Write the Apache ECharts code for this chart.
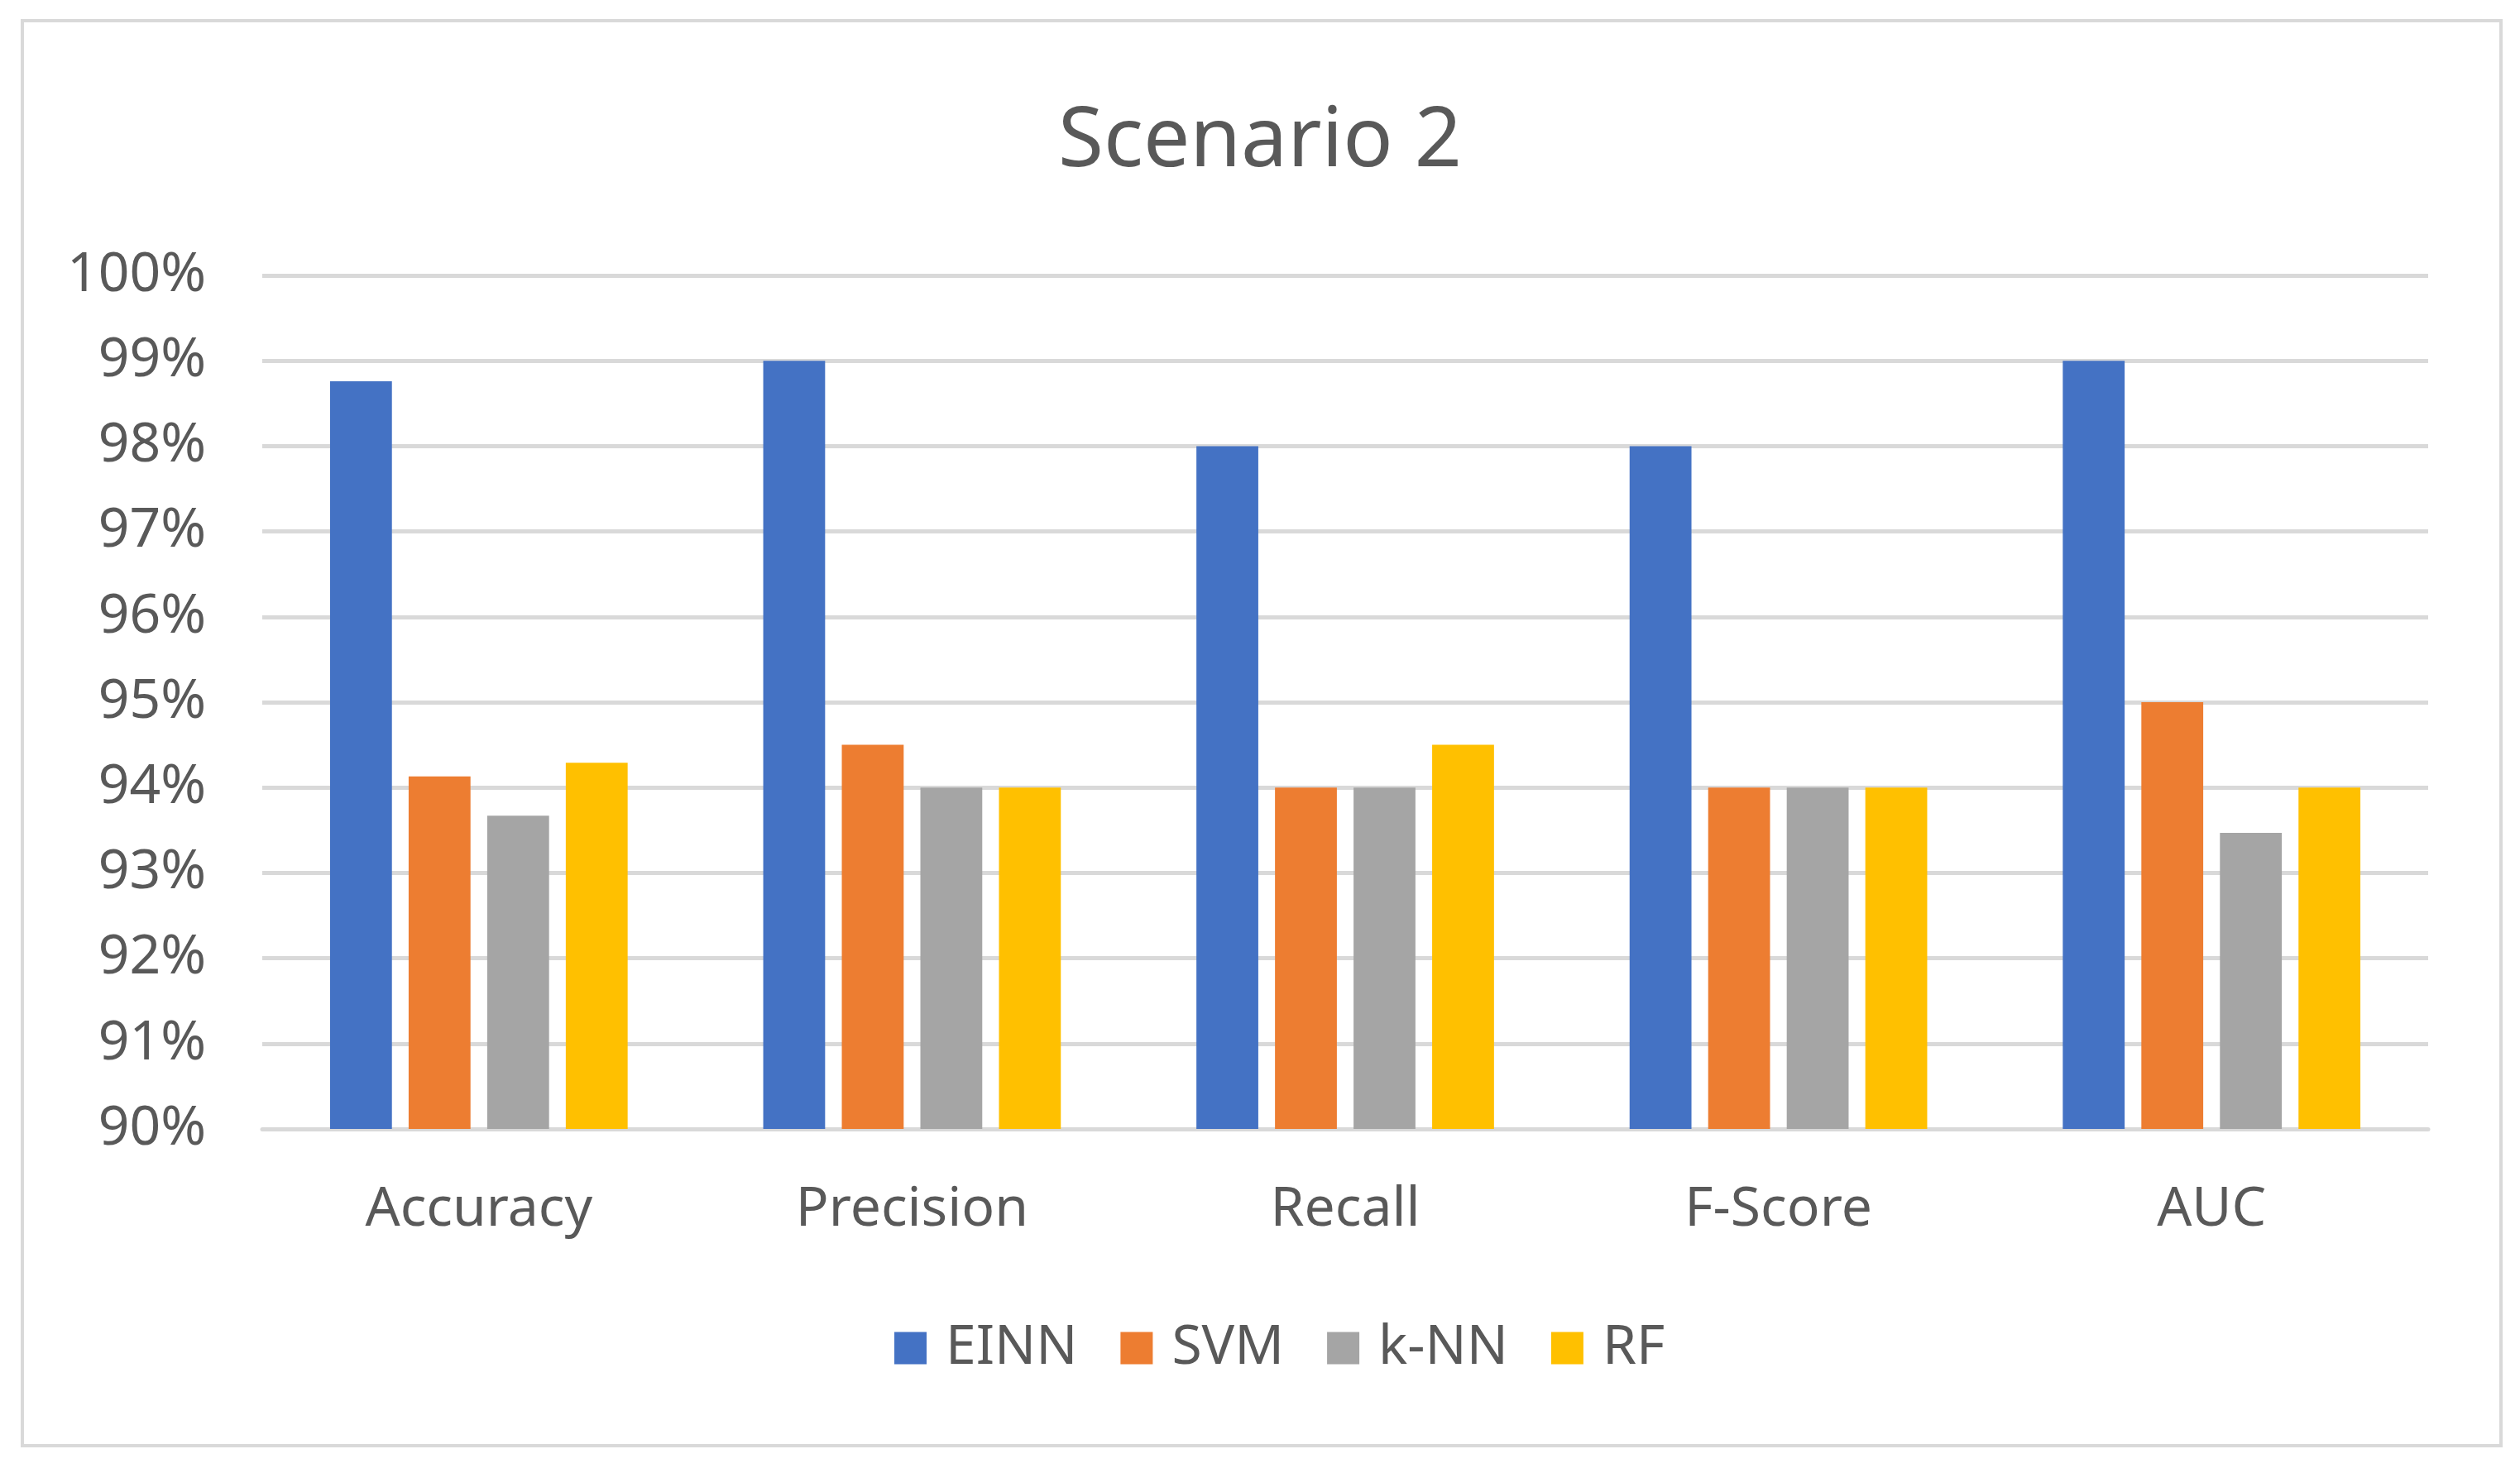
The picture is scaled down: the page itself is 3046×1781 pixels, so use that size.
<!DOCTYPE html>
<html><head><meta charset="utf-8">
<script src="https://cdn.jsdelivr.net/npm/echarts@6/dist/echarts.min.js"></script>
<style>html,body{margin:0;padding:0;background:#fff}#c{width:3046px;height:1781px}</style>
</head><body><div id="c"></div>
<script>
const categories = ['Accuracy', 'Precision', 'Recall', 'F-Score', 'AUC'];
const seriesNames = ['EINN', 'SVM', 'k-NN', 'RF'];
const einn = [98.76, 99.0, 98.0, 98.0, 99.0];
const svm = [94.13, 94.5, 94.0, 94.0, 95.0];
const knn = [93.67, 94.0, 94.0, 94.0, 93.47];
const rf = [94.29, 94.0, 94.5, 94.0, 94.0];
const colors = ['#4472C4', '#ED7D31', '#A5A5A5', '#FFC000'];
const values = [einn, svm, knn, rf];

const chart = echarts.init(document.getElementById('c'));
const font = 'Noto Sans';
chart.setOption({
  backgroundColor: '#fff',
  animation: false,
  title: {
    text: 'Scenario 2', left: 'center', top: 118,
    textStyle: { fontFamily: font, fontSize: 100, fontWeight: 'normal', color: '#595959' }
  },
  graphic: [{
    type: 'rect', shape: { x: 27, y: 25, width: 2996, height: 1723 },
    style: { fill: 'none', stroke: '#d9d9d9', lineWidth: 4 }, silent: true
  }],
  legend: {
    data: seriesNames, left: 1076, top: 1592,
    itemWidth: 39, itemHeight: 39, itemGap: 52, icon: 'rect',
    textStyle: { fontFamily: font, fontSize: 66, color: '#595959', padding: [0, 0, 0, 18] }
  },
  grid: { left: 317, right: 111, top: 333, bottom: 416 },
  xAxis: {
    type: 'category', data: categories,
    axisLine: { lineStyle: { color: '#d9d9d9', width: 5 } },
    axisTick: { show: false },
    axisLabel: { fontFamily: font, fontSize: 66, color: '#595959', margin: 65 }
  },
  yAxis: {
    type: 'value', min: 90, max: 100, interval: 1,
    axisLine: { show: false }, axisTick: { show: false },
    splitLine: { lineStyle: { color: '#d9d9d9', width: 5 } },
    axisLabel: { fontFamily: font, fontSize: 66, color: '#595959', margin: 68, formatter: '{value}%' }
  },
  series: seriesNames.map((n, i) => ({
    name: n, type: 'bar', data: values[i],
    itemStyle: { color: colors[i] },
    barGap: '27%', barCategoryGap: '31.3%'
  }))
});
</script></body></html>
